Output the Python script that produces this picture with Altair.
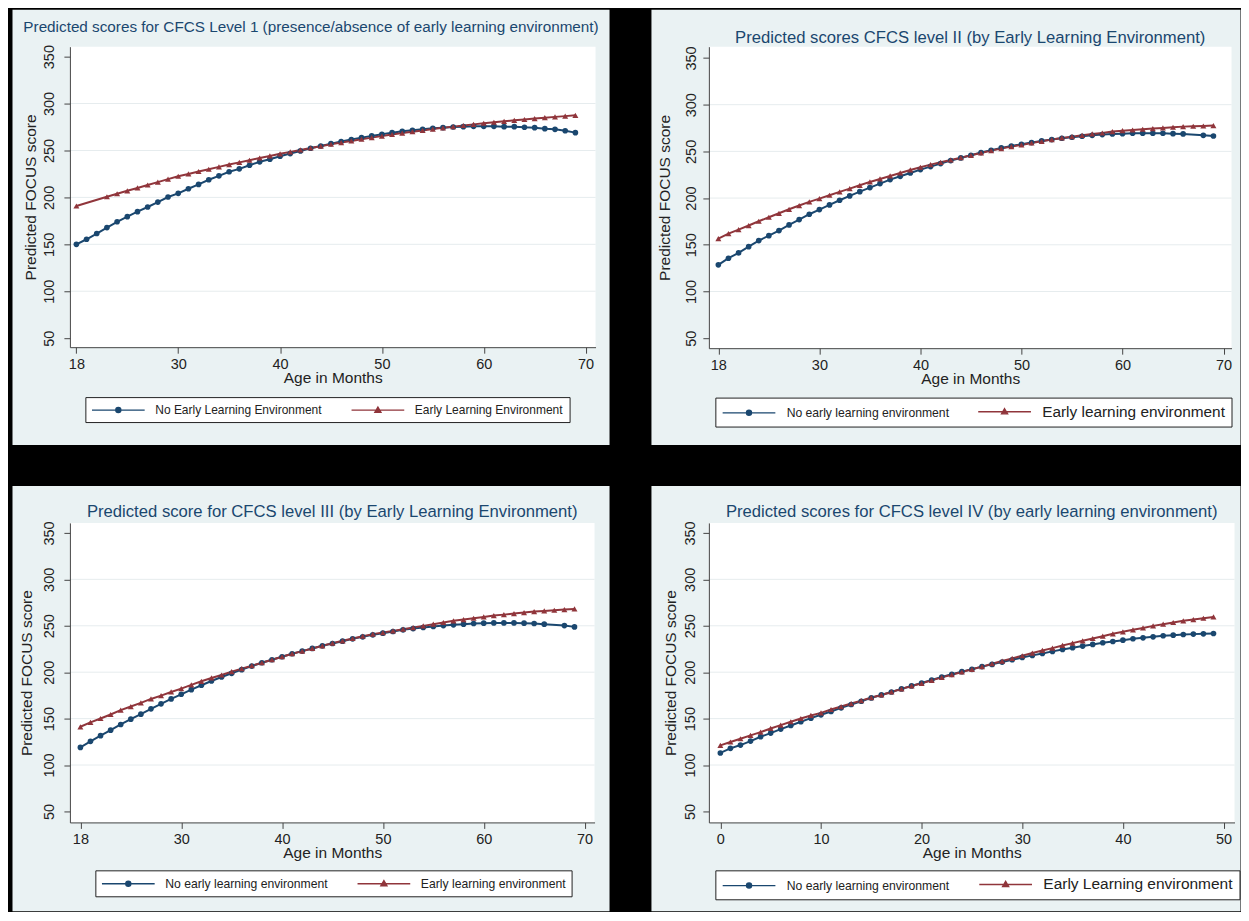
import json
import altair as alt
import pandas as pd

FONT = "Liberation Sans"
BLUE = "#1a476f"
RED = "#90353b"
PANEL_BG = "#eaf2f3"
GRID = "#e6ecee"
INK = "#222222"

# ---------------- data ----------------
months_a = list(range(20, 70))   # plotted positions, panels 1-3 (first tick is labelled 18)
months_b = list(range(0, 50))    # panel 4
x_ticks_a = [20, 30, 40, 50, 60, 70]
x_labels_a = ["18", "30", "40", "50", "60", "70"]
x_ticks_b = [0, 10, 20, 30, 40, 50]
x_labels_b = ["0", "10", "20", "30", "40", "50"]
y_ticks = [50, 100, 150, 200, 250, 300, 350]
grid_levels = [100, 150, 200, 250, 300]

titles = [
    "Predicted scores for CFCS Level 1 (presence/absence of early learning environment)",
    "Predicted scores CFCS level II (by Early Learning Environment)",
    "Predicted score for CFCS level III (by Early Learning Environment)",
    "Predicted scores for CFCS level IV (by early learning environment)",
]
no_labels = [
    "No Early Learning Environment",
    "No early learning environment",
    "No early learning environment",
    "No early learning environment",
]
yes_labels = [
    "Early Learning Environment",
    "Early learning environment",
    "Early learning environment",
    "Early Learning environment",
]

p1_no = [150.0, 155.4, 161.5, 167.8, 174.0, 179.5, 184.8, 189.8, 195.0, 200.4,
         204.3, 209.2, 213.8, 218.8, 223.0, 227.3, 230.4, 234.3, 237.9, 240.7,
         243.9, 246.7, 249.5, 252.4, 254.8, 257.3, 259.5, 261.6, 263.7, 265.5,
         267.2, 269.0, 270.4, 271.5, 272.5, 273.6, 274.3, 275.0, 275.4, 275.7,
         275.7, 275.7, 275.4, 275.4, 274.7, 274.3, 273.2, 272.5, 271.0, 269.0]
p1_yes = [190.8, None, None, 200.7, 203.9, 207.0, 210.1, 213.2, 216.3, 219.5,
          222.5, 225.0, 227.6, 230.0, 232.5, 235.0, 237.3, 239.6, 242.0, 244.2,
          246.4, 248.5, 250.6, 252.6, 254.6, 256.6, 258.4, 260.2, 262.0, 263.7,
          265.3, 267.0, 268.5, 270.0, 271.4, 272.8, 274.1, 275.4, 276.6, 277.8,
          279.0, 280.1, 281.1, 282.1, 283.0, 284.0, 284.9, 285.8, 286.6, 287.4]
p2_no = [128.5, 135.6, 141.3, 148.0, 154.5, 159.8, 165.2, 171.3, 177.0, 182.7,
         187.7, 192.7, 197.7, 202.3, 206.9, 211.2, 215.5, 219.8, 223.3, 226.9,
         230.5, 233.7, 236.9, 240.1, 243.0, 245.8, 248.7, 251.2, 253.7, 255.8,
         257.6, 259.4, 261.2, 262.6, 264.0, 265.1, 266.2, 267.2, 268.0, 268.7,
         269.0, 269.4, 269.4, 269.4, 269.4, 269.0, 268.7, None, 267.2, 266.5]
p2_yes = [156.6, 162.0, 166.3, 170.6, 175.2, 179.5, 183.7, 188.0, 192.0, 195.9,
          199.4, 203.0, 206.6, 210.1, 213.7, 217.3, 220.5, 223.7, 226.9, 230.1,
          233.0, 235.8, 238.3, 240.8, 243.3, 245.8, 248.3, 250.8, 253.0, 255.1,
          256.9, 259.0, 260.8, 262.6, 264.4, 265.8, 267.2, 268.7, 269.7, 271.2,
          272.2, 272.9, 273.7, 274.4, 275.1, 275.8, 276.5, 276.9, 277.2, 277.6]
p3_no = [119.0, 125.5, 131.6, 137.6, 143.7, 149.4, 154.8, 160.5, 165.9, 171.2,
         176.2, 181.2, 185.9, 190.5, 194.8, 198.8, 202.7, 206.6, 210.2, 213.4,
         216.6, 219.9, 222.7, 225.6, 228.4, 230.9, 233.4, 235.9, 238.1, 240.2,
         242.0, 243.8, 245.6, 247.0, 248.1, 249.2, 250.2, 251.0, 251.7, 252.4,
         252.8, 253.1, 253.1, 253.1, 252.8, 252.4, 251.7, None, 250.2, 248.8]
p3_yes = [141.2, 145.9, 150.1, 154.4, 159.1, 163.0, 166.9, 171.2, 174.8, 178.7,
          182.3, 186.3, 190.2, 193.8, 197.0, 200.6, 203.8, 207.0, 210.2, 213.4,
          216.6, 219.9, 222.7, 225.6, 228.4, 231.3, 233.8, 236.3, 238.8, 241.0,
          242.7, 244.5, 246.3, 248.1, 249.9, 251.7, 253.5, 255.3, 256.7, 258.1,
          259.5, 261.0, 262.0, 263.1, 264.2, 265.3, 266.0, 266.7, 267.4, 268.1]
p4_no = [113.0, 118.0, 121.5, 125.8, 130.5, 134.4, 138.7, 142.6, 146.6, 150.5,
         154.1, 157.7, 161.6, 165.2, 168.7, 172.3, 175.5, 178.7, 182.0, 185.2,
         188.4, 191.6, 194.8, 197.7, 200.6, 203.1, 206.0, 208.4, 210.9, 213.4,
         215.9, 218.1, 220.2, 222.4, 224.5, 226.3, 228.1, 229.9, 231.7, 233.1,
         234.5, 236.0, 237.0, 238.1, 239.2, 239.9, 240.6, 241.0, 241.3, 241.7]
p4_yes = [121.2, 124.8, 128.3, 131.9, 135.5, 139.4, 143.0, 146.6, 150.1, 153.4,
          156.2, 159.8, 163.0, 166.2, 169.4, 172.7, 175.5, 178.7, 182.0, 185.2,
          188.0, 191.2, 194.4, 197.3, 200.2, 203.1, 206.0, 209.1, 212.0, 214.9,
          217.7, 220.6, 223.4, 225.9, 228.8, 231.3, 233.8, 236.3, 238.8, 241.3,
          243.5, 245.6, 247.7, 249.9, 251.7, 253.5, 255.3, 256.7, 258.1, 259.5]

# legend symbol: a line with a marker in its middle (symbol size 144 -> 6 px per unit)
LEG_CIRCLE = "M-4.4,0H4.4M-0.42,0A0.42,0.42 0 1,1 0.42,0A0.42,0.42 0 1,1 -0.42,0Z"
LEG_TRI = "M-4.4,0H4.4M0,-0.5L0.5,0.35L-0.5,0.35Z"


def label_expr(values, labels):
    expr = "''"
    for v, l in reversed(list(zip(values, labels))):
        expr = f"datum.value == {v} ? {json.dumps(l)} : ({expr})"
    return expr


def panel(i, xs, no_vals, yes_vals, xdom, ydom, xticks, xlabels, W, H, bg,
          title_size, title_offset, title_frame, leg_xy, leg_sizes, ypads):
    no_lab, yes_lab = no_labels[i], yes_labels[i]
    rows = []
    for lab, vals in ((no_lab, no_vals), (yes_lab, yes_vals)):
        for x, v in zip(xs, vals):
            if v is not None:
                rows.append({"age": x, "score": v, "series": lab})
    df = pd.DataFrame(rows)

    xscale = alt.Scale(domain=xdom, nice=False, zero=False)
    yscale = alt.Scale(domain=ydom, nice=False, zero=False)
    xenc = alt.X("age:Q", scale=xscale, axis=alt.Axis(
        values=xticks, labelExpr=label_expr(xticks, xlabels), title="Age in Months",
        grid=False, domainColor="#444", tickColor="#444", tickSize=6,
        labelFont=FONT, labelFontSize=14.5, labelColor=INK, labelPadding=4,
        titleFont=FONT, titleFontSize=15.5, titleFontWeight="normal", titleColor=INK,
        titlePadding=0, zindex=1, labelFlush=False))
    yenc = alt.Y("score:Q", scale=yscale, axis=alt.Axis(
        values=y_ticks, title="Predicted FOCUS score", grid=False,
        domainColor="#444", tickColor="#444", tickSize=6,
        labelAngle=270, labelAlign="center", labelBaseline="middle",
        labelFont=FONT, labelFontSize=14.5, labelColor=INK, labelPadding=ypads[0],
        titleFont=FONT, titleFontSize=15.5, titleFontWeight="normal", titleColor=INK,
        titlePadding=ypads[1], zindex=1))

    test = f"datum.value === {json.dumps(no_lab)}"
    legend = alt.Legend(
        title=None, orient="none", legendX=leg_xy[0], legendY=leg_xy[1],
        direction="horizontal", columns=2,
        symbolType=alt.ExprRef(expr=f"{test} ? {json.dumps(LEG_CIRCLE)} : {json.dumps(LEG_TRI)}"),
        symbolSize=144, symbolStrokeWidth=1.4, symbolOffset=20, labelOffset=30,
        labelFont=FONT,
        labelFontSize=alt.ExprRef(expr=f"{test} ? {leg_sizes[0]} : {leg_sizes[1]}"),
        labelColor=INK, labelLimit=400, columnPadding=26, padding=6,
        strokeColor="#222", fillColor="white", zindex=1)
    color = alt.Color("series:N", scale=alt.Scale(domain=[no_lab, yes_lab], range=[BLUE, RED]),
                      legend=legend)

    one = alt.Data(values=[{}])
    back = alt.Chart(one).mark_rect(color=PANEL_BG).encode(
        x=alt.value(bg[0]), x2=alt.value(W + bg[1]), y=alt.value(bg[2]), y2=alt.value(H + bg[3]))
    plot = alt.Chart(one).mark_rect(color="white").encode(
        x=alt.value(0), x2=alt.value(W), y=alt.value(0), y2=alt.value(H))
    grid = alt.Chart(pd.DataFrame({"score": grid_levels})).mark_rule(
        color=GRID, strokeWidth=1).encode(y=yenc)
    lines = alt.Chart(df).mark_line(strokeWidth=2).encode(x=xenc, y=yenc, color=color)
    dots = alt.Chart(df).transform_filter(alt.datum.series == no_lab).mark_point(
        filled=True, size=32, opacity=1, shape="circle").encode(x=xenc, y=yenc, color=color)
    tris = alt.Chart(df).transform_filter(alt.datum.series == yes_lab).mark_point(
        filled=True, size=36, opacity=1, shape="triangle-up").encode(x=xenc, y=yenc, color=color)

    return alt.layer(back, plot, grid, lines, dots, tris).properties(
        width=W, height=H,
        title=alt.TitleParams(titles[i], font=FONT, fontSize=title_size, fontWeight="normal",
                              color=BLUE, anchor="middle", frame=title_frame,
                              offset=title_offset, baseline="middle", zindex=1))


p1 = panel(0, months_a, p1_no, p1_yes, [19.363, 70.98], [40.4, 360.6], x_ticks_a, x_labels_a,
           526.5, 301, (-57.5, 14, -37, 98), 15.3, -33, "bounds", (15.5, 351), (12, 12), (14, 3))
p2 = panel(1, months_a, p2_no, p2_yes, [19.061, 70.79], [39.3, 362.1], x_ticks_a, x_labels_a,
           523.5, 302, (-57.5, 9, -37, 97), 16.7, -45, "group", (6.5, 351.5), (12.2, 15.4), (11.5, 11))
p3 = panel(2, months_a, p3_no, p3_yes, [18.96, 70.99], [38.2, 360.8], x_ticks_a, x_labels_a,
           525.5, 300, (-57.5, 15, -37, 89), 16.7, -43, "group", (25.5, 348), (12.2, 12.2), (14.6, 7))
p4 = panel(3, months_b, p4_no, p4_yes, [-1.141, 51.09], [38.2, 360.8], x_ticks_b, x_labels_b,
           526.5, 300, (-57.5, 6, -37, 89), 16.7, -43, "group", (6.5, 348), (12.2, 15.5), (12.5, 3.5))

top = alt.hconcat(p1, p2, spacing=41).resolve_scale(color="independent", x="independent", y="independent")
bottom = alt.hconcat(p3, p4, spacing=41).resolve_scale(color="independent", x="independent", y="independent")
chart = alt.vconcat(top, bottom, spacing=41).resolve_scale(
    color="independent", x="independent", y="independent"
).properties(
    padding={"left": 4, "top": 1, "right": 0, "bottom": 0}
).configure(background="black").configure_view(strokeWidth=0)

chart.save("out.html", embed_options={"renderer": "svg", "actions": False})
